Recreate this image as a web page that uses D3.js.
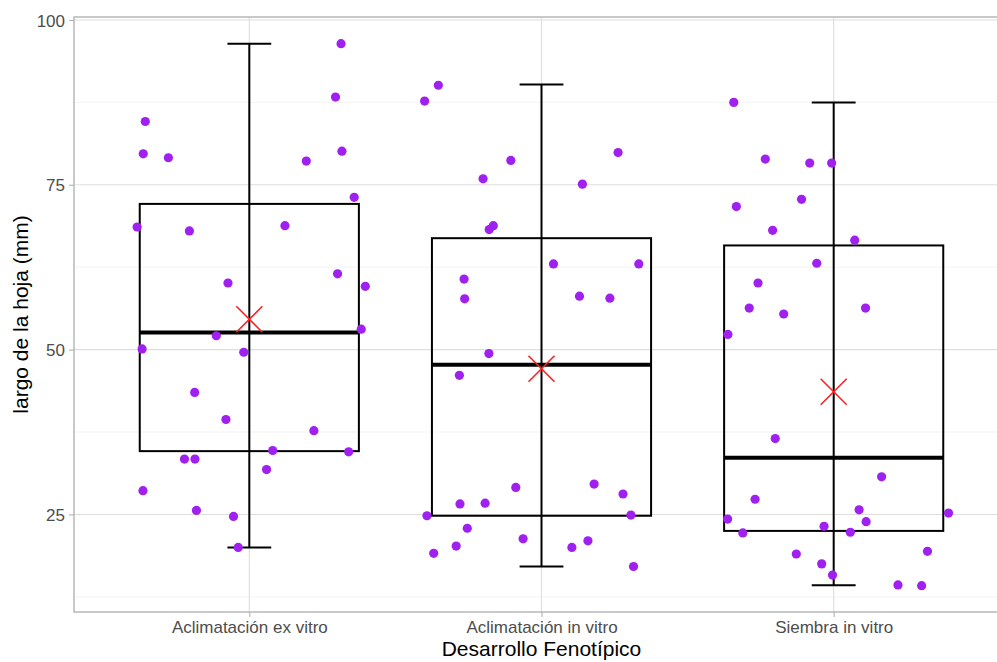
<!DOCTYPE html>
<html>
<head>
<meta charset="utf-8">
<title>largo de la hoja</title>
<script src="https://cdnjs.cloudflare.com/ajax/libs/d3/7.8.5/d3.min.js"></script>
<style>
  body { margin: 0; background: #fff; }
  svg { display: block; font-family: "Liberation Sans", Arial, sans-serif; }
  .tick-label { fill: #4d4d4d; font-size: 17px; }
  .axis-title { fill: #000; font-size: 21px; }
</style>
</head>
<body>
<div id="chart"></div>
<script>
// categories
var categories = ["Aclimatación ex vitro", "Aclimatación in vitro", "Siembra in vitro"];

// box stats
var lowerWhisker = [20.0, 17.1, 14.25];
var q1Values     = [34.6, 24.8, 22.5];
var medianValues = [52.6, 47.7, 33.6];
var q3Values     = [72.1, 66.9, 65.8];
var upperWhisker = [96.4, 90.2, 87.5];
var meanValues   = [54.6, 47.1, 43.6];

// observations (value) and horizontal jitter (in category units)
var valuesExVitro = [96.4, 88.3, 84.6, 79.7, 79.1, 78.6, 80.1, 73.1, 68.6, 68.0, 68.8, 60.1, 61.5, 59.6,
  53.1, 52.1, 50.1, 49.6, 43.5, 39.4, 37.7, 34.7, 34.5, 33.4, 33.4, 31.8, 28.6, 25.6, 24.7, 20.0];
var jitterExVitro = [0.314, 0.295, -0.356, -0.363, -0.277, 0.195, 0.317, 0.359, -0.384, -0.205, 0.122, -0.073, 0.302, 0.397,
  0.383, -0.113, -0.367, -0.019, -0.187, -0.08, 0.221, 0.08, 0.34, -0.222, -0.186, 0.059, -0.364, -0.181, -0.054, -0.038];

var valuesInVitro = [90.1, 87.7, 78.7, 75.9, 79.9, 75.1, 68.8, 68.2, 63.0, 63.0, 60.7, 57.7, 58.1, 57.8,
  49.4, 46.1, 29.1, 29.6, 28.1, 26.6, 26.7, 24.8, 24.9, 22.9, 21.3, 21.0, 20.0, 20.2, 19.1, 17.1];
var jitterInVitro = [-0.353, -0.4, -0.105, -0.2, 0.262, 0.14, -0.165, -0.179, 0.041, 0.333, -0.265, -0.263, 0.13, 0.234,
  -0.18, -0.281, -0.088, 0.18, 0.279, -0.279, -0.193, -0.392, 0.306, -0.254, -0.063, 0.159, 0.104, -0.292, -0.369, 0.315];

var valuesSiembra = [87.5, 78.9, 78.3, 78.3, 72.8, 71.7, 68.1, 66.6, 63.1, 60.1, 56.3, 55.4, 56.3, 52.3,
  36.5, 30.7, 27.3, 25.7, 25.2, 24.3, 23.9, 23.2, 22.2, 22.3, 19.4, 19.0, 17.5, 15.8, 14.3, 14.2];
var jitterSiembra = [-0.342, -0.234, -0.082, -0.007, -0.11, -0.333, -0.209, 0.072, -0.058, -0.259, -0.289, -0.171, 0.109, -0.362,
  -0.2, 0.164, -0.269, 0.087, 0.393, -0.363, 0.111, -0.033, -0.311, 0.057, 0.321, -0.128, -0.041, -0.004, 0.22, 0.301];

var yTicks = [25, 50, 75, 100];
var yMinorTicks = [12.5, 37.5, 62.5, 87.5];

var width = 997, height = 662;
var margin = { top: 17, left: 74, bottom: 50 };
var panelRight = 1009; // panel runs past the picture edge

var svg = d3.select("#chart").append("svg")
  .attr("width", width)
  .attr("height", height);

var x = d3.scalePoint()
  .domain(categories)
  .range([margin.left, panelRight])
  .padding(0.6);
var step = x.step();

var y = d3.scaleLinear()
  .domain([10.2, 100.45])
  .range([height - margin.bottom, margin.top]);

var panelTop = y.range()[1], panelBottom = y.range()[0];

// grid
svg.append("g").selectAll("line").data(yMinorTicks).enter().append("line")
  .attr("x1", margin.left).attr("x2", panelRight)
  .attr("y1", function(d) { return y(d); }).attr("y2", function(d) { return y(d); })
  .attr("stroke", "#efefef").attr("stroke-width", 0.7);
svg.append("g").selectAll("line").data(yTicks).enter().append("line")
  .attr("x1", margin.left).attr("x2", panelRight)
  .attr("y1", function(d) { return y(d); }).attr("y2", function(d) { return y(d); })
  .attr("stroke", "#dedede").attr("stroke-width", 1.1);
svg.append("g").selectAll("line").data(categories).enter().append("line")
  .attr("x1", function(d) { return x(d); }).attr("x2", function(d) { return x(d); })
  .attr("y1", panelTop).attr("y2", panelBottom)
  .attr("stroke", "#dedede").attr("stroke-width", 1.1);

// panel border
svg.append("rect")
  .attr("x", margin.left).attr("y", panelTop)
  .attr("width", panelRight - margin.left).attr("height", panelBottom - panelTop)
  .attr("fill", "none").attr("stroke", "#b3b3b3").attr("stroke-width", 1.4);

// axes
var yAxis = svg.append("g")
  .attr("transform", "translate(" + margin.left + ",0)")
  .call(d3.axisLeft(y).tickValues(yTicks).tickSize(5).tickPadding(4));
var xAxis = svg.append("g")
  .attr("transform", "translate(0," + panelBottom + ")")
  .call(d3.axisBottom(x).tickSize(5).tickPadding(4));
[yAxis, xAxis].forEach(function(a) {
  a.select(".domain").remove();
  a.selectAll(".tick line").attr("stroke", "#b3b3b3").attr("stroke-width", 1.1);
  a.selectAll(".tick text").attr("class", "tick-label").attr("fill", null)
    .style("font-size", "17px").style("font-family", "'Liberation Sans', Arial, sans-serif");
});
yAxis.selectAll(".tick text").attr("dy", "0.36em");

// boxes
var boxW = step * 0.75, capW = step * 0.15;
var boxes = svg.append("g");
categories.forEach(function(c, i) {
  var cx = x(c);
  boxes.append("rect")
    .attr("x", cx - boxW / 2).attr("y", y(q3Values[i]))
    .attr("width", boxW).attr("height", y(q1Values[i]) - y(q3Values[i]))
    .attr("fill", "none").attr("stroke", "#000").attr("stroke-width", 2);
  boxes.append("line")
    .attr("x1", cx - boxW / 2).attr("x2", cx + boxW / 2)
    .attr("y1", y(medianValues[i])).attr("y2", y(medianValues[i]))
    .attr("stroke", "#000").attr("stroke-width", 4);
  boxes.append("line")
    .attr("x1", cx).attr("x2", cx)
    .attr("y1", y(lowerWhisker[i])).attr("y2", y(upperWhisker[i]))
    .attr("stroke", "#000").attr("stroke-width", 2);
  [lowerWhisker[i], upperWhisker[i]].forEach(function(v) {
    boxes.append("line")
      .attr("x1", cx - capW / 2).attr("x2", cx + capW / 2)
      .attr("y1", y(v)).attr("y2", y(v))
      .attr("stroke", "#000").attr("stroke-width", 2);
  });
});

// points
var groups = [
  [valuesExVitro, jitterExVitro],
  [valuesInVitro, jitterInVitro],
  [valuesSiembra, jitterSiembra]
];
var pts = svg.append("g");
groups.forEach(function(g, i) {
  var cx = x(categories[i]);
  pts.selectAll(null).data(g[0]).enter().append("circle")
    .attr("cx", function(d, j) { return cx + g[1][j] * step; })
    .attr("cy", function(d) { return y(d); })
    .attr("r", 4.6)
    .attr("fill", "#a020f0");
});

// means
var xs = svg.append("g");
categories.forEach(function(c, i) {
  var cx = x(c), cy = y(meanValues[i]), s = 13;
  xs.append("path")
    .attr("d", "M" + (cx - s) + "," + (cy - s) + "L" + (cx + s) + "," + (cy + s) +
               "M" + (cx - s) + "," + (cy + s) + "L" + (cx + s) + "," + (cy - s))
    .attr("stroke", "#ff2020").attr("stroke-width", 1.6).attr("fill", "none");
});

// axis titles
svg.append("text")
  .attr("class", "axis-title")
  .attr("x", (margin.left + panelRight) / 2)
  .attr("y", 656)
  .attr("text-anchor", "middle")
  .text("Desarrollo Fenotípico");
svg.append("text")
  .attr("class", "axis-title")
  .attr("transform", "translate(28," + ((panelTop + panelBottom) / 2) + ") rotate(-90)")
  .attr("text-anchor", "middle")
  .text("largo de la hoja (mm)");
</script>
</body>
</html>
